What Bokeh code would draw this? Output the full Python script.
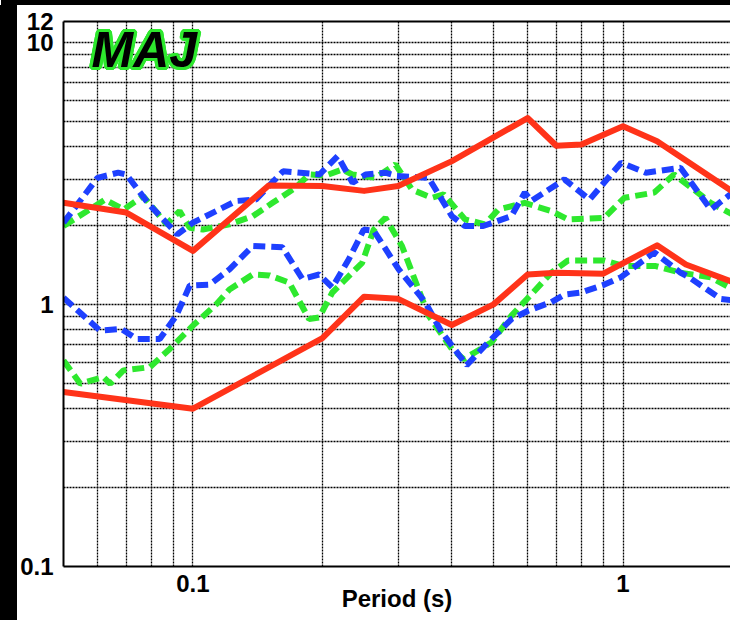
import math
from bokeh.plotting import figure
from bokeh.layouts import row, column
from bokeh.models import FixedTicker, LogAxis, Label, CustomJSTickFormatter, Range1d, Spacer
from bokeh.embed import file_html
from bokeh.resources import INLINE

# ---- data (period in s, spectral value) ----
red_upper_period = [0.05, 0.07, 0.1, 0.15, 0.2, 0.25, 0.3, 0.4, 0.6, 0.7, 0.8, 1.0, 1.2, 2.0]
red_upper_sa = [2.44, 2.24, 1.60, 2.84, 2.83, 2.71, 2.83, 3.52, 5.14, 4.03, 4.07, 4.78, 4.19, 2.40]

red_lower_period = [0.05, 0.1, 0.2, 0.25, 0.3, 0.4, 0.5, 0.6, 0.7, 0.9, 1.2, 1.4, 2.0]
red_lower_sa = [0.463, 0.400, 0.743, 1.07, 1.05, 0.834, 1.00, 1.30, 1.32, 1.31, 1.68, 1.42, 1.14]

blue_upper_period = [0.05, 0.06, 0.067, 0.07, 0.079, 0.092, 0.1, 0.126, 0.14, 0.162, 0.197, 0.217,
                     0.235, 0.252, 0.28, 0.298, 0.353, 0.4, 0.429, 0.473, 0.55, 0.591, 0.612, 0.731,
                     0.836, 0.99, 1.13, 1.36, 1.6, 1.66, 1.86]
blue_upper_sa = [2.05, 3.04, 3.18, 3.13, 2.41, 1.85, 2.05, 2.48, 2.51, 3.22, 3.13, 3.68,
                 2.91, 3.13, 3.18, 3.09, 3.04, 2.17, 1.99, 1.99, 2.17, 2.67, 2.48, 3.00,
                 2.51, 3.47, 3.18, 3.32, 2.30, 2.41, 2.79]

green_upper_period = [0.05, 0.0625, 0.069, 0.0766, 0.0868, 0.0931, 0.0983, 0.1055, 0.1216, 0.1377,
                      0.1532, 0.1734, 0.1862, 0.2035, 0.2225, 0.2347, 0.2656, 0.2955, 0.3231, 0.3594,
                      0.3826, 0.4292, 0.4774, 0.5129, 0.5908, 0.6813, 0.7447, 0.9052, 1.007, 1.182,
                      1.314, 1.462, 1.599, 1.86]
green_upper_sa = [1.99, 2.51, 2.30, 2.59, 2.02, 2.27, 1.96, 1.93, 2.02, 2.17,
                  2.44, 2.79, 3.13, 3.10, 3.27, 3.13, 3.04, 3.42, 2.74, 2.55,
                  2.63, 2.11, 2.02, 2.30, 2.44, 2.27, 2.11, 2.14, 2.55, 2.67,
                  3.13, 2.74, 2.44, 2.14]

blue_lower_period = [0.05, 0.0608, 0.0682, 0.0739, 0.0837, 0.0915, 0.0983, 0.1093, 0.1216, 0.1377,
                     0.1615, 0.1797, 0.1965, 0.2109, 0.2305, 0.2496, 0.2633, 0.3009, 0.3467, 0.3792,
                     0.433, 0.4861, 0.5504, 0.6017, 0.6813, 0.7313, 0.7995, 0.9052, 0.9894, 1.182,
                     1.362, 1.424, 1.686, 1.86]
blue_lower_sa = [1.06, 0.794, 0.806, 0.738, 0.738, 0.906, 1.18, 1.19, 1.36, 1.67,
                 1.65, 1.25, 1.30, 1.16, 1.49, 1.93, 1.91, 1.36, 1.02, 0.782,
                 0.586, 0.717, 0.879, 0.946, 1.02, 1.09, 1.11, 1.19, 1.27, 1.58,
                 1.32, 1.27, 1.05, 1.03]

green_lower_period = [0.05, 0.0547, 0.0619, 0.0642, 0.0689, 0.0794, 0.0883, 0.1, 0.1132, 0.1216,
                      0.1377, 0.1505, 0.1675, 0.1862, 0.1965, 0.2109, 0.2474, 0.2633, 0.2802, 0.3062,
                      0.3531, 0.3998, 0.4262, 0.4948, 0.5504, 0.6017, 0.6813, 0.7447, 0.9052, 1.007,
                      1.192, 1.362, 1.599, 1.86]
green_lower_sa = [0.611, 0.498, 0.528, 0.498, 0.560, 0.576, 0.676, 0.830, 1.00, 1.14,
                  1.30, 1.29, 1.21, 0.879, 0.892, 1.11, 1.44, 1.93, 2.14, 1.67,
                  0.906, 0.676, 0.618, 0.717, 0.906, 1.06, 1.32, 1.47, 1.47, 1.40,
                  1.40, 1.32, 1.27, 1.11]

x_major_ticks = [0.1, 1]
x_minor_ticks = [0.06, 0.07, 0.08, 0.09, 0.2, 0.3, 0.4, 0.5, 0.6, 0.7, 0.8, 0.9]
y_major_ticks = [0.1, 1, 10, 12]
y_minor_ticks = [0.2, 0.3, 0.4, 0.5, 0.6, 0.7, 0.8, 0.9, 2, 3, 4, 5, 6, 7, 8, 9]

station = "MAJ"
x_label = "Period (s)"

RED = "#ff3319"
BLUE = "#1e40ff"
GREEN = "#2ee82e"
FONT = "Liberation Sans"

p = figure(width=713, height=615, x_axis_type="log", y_axis_type="log",
           x_range=Range1d(0.05, 1.778), y_range=Range1d(0.1, 12),
           output_backend="svg", toolbar_location=None,
           min_border_left=44, min_border_right=0, min_border_top=16, min_border_bottom=54,
           background_fill_color="white", border_fill_color="white",
           outline_line_color=None)

fmt = CustomJSTickFormatter(code="return String(tick);")
for ax, maj, mnr in ((p.xaxis, x_major_ticks, x_minor_ticks), (p.yaxis, y_major_ticks, y_minor_ticks)):
    ax.ticker = FixedTicker(ticks=maj, minor_ticks=mnr)
    ax.formatter = fmt
    ax.axis_line_color = "black"
    ax.axis_line_width = 2
    ax.major_tick_in = 0
    ax.major_tick_out = 0
    ax.minor_tick_in = 0
    ax.minor_tick_out = 0
    ax.major_label_text_font = FONT
    ax.major_label_text_font_style = "bold"
    ax.major_label_text_font_size = "24px"
    ax.major_label_text_color = "black"

p.xaxis.major_label_standoff = 8
p.yaxis.major_label_standoff = 10
p.xaxis.axis_label = x_label
p.xaxis.axis_label_text_font = FONT
p.xaxis.axis_label_text_font_style = "bold"
p.xaxis.axis_label_text_font_size = "24px"
p.xaxis.axis_label_text_color = "black"
p.xaxis.axis_label_standoff = -10

for g in (p.xgrid, p.ygrid):
    g.grid_line_color = "black"
    g.grid_line_width = 1.3
    g.grid_line_dash = "2 1"
    g.grid_line_alpha = 1
    g.minor_grid_line_color = "black"
    g.minor_grid_line_width = 1.3
    g.minor_grid_line_dash = "2 1"
    g.minor_grid_line_alpha = 1

top_axis = LogAxis(ticker=FixedTicker(ticks=[]), axis_line_color="black", axis_line_width=2,
                   major_tick_in=0, major_tick_out=0, minor_tick_in=0, minor_tick_out=0,
                   major_label_text_font_size="0px")
p.add_layout(top_axis, "above")

dash = "12 6"
p.line(green_upper_period, green_upper_sa, line_color=GREEN, line_width=6, line_dash=dash)
p.line(green_lower_period, green_lower_sa, line_color=GREEN, line_width=6, line_dash=dash)
p.line(blue_upper_period, blue_upper_sa, line_color=BLUE, line_width=6, line_dash=dash)
p.line(blue_lower_period, blue_lower_sa, line_color=BLUE, line_width=6, line_dash=dash)
p.line(red_upper_period, red_upper_sa, line_color=RED, line_width=6, line_join="round")
p.line(red_lower_period, red_lower_sa, line_color=RED, line_width=6, line_join="round")

# station name: black bold italic with a thick green outline
title_kw = dict(x=0.0581, y=9.35, text=station, text_font=FONT, text_font_style="bold italic",
                text_font_size="50px", text_baseline="middle", text_align="left")
for k in range(16):
    a = 2 * math.pi * k / 16
    p.add_layout(Label(x_offset=3.2 * math.cos(a), y_offset=3.2 * math.sin(a),
                       text_color=GREEN, **title_kw))
p.add_layout(Label(text_color="black", **title_kw))

# dark strips along the top and left edges of the picture
top_strip = row(Spacer(width=1, height=5, styles={"background-color": "white"}),
                Spacer(width=729, height=5, styles={"background-color": "black"}), spacing=0)
left_strip = Spacer(width=17, height=615, styles={"background-color": "black"})
layout = column(top_strip, row(left_strip, p, spacing=0), spacing=0)

open("out.html", "w").write(file_html(layout, INLINE))
